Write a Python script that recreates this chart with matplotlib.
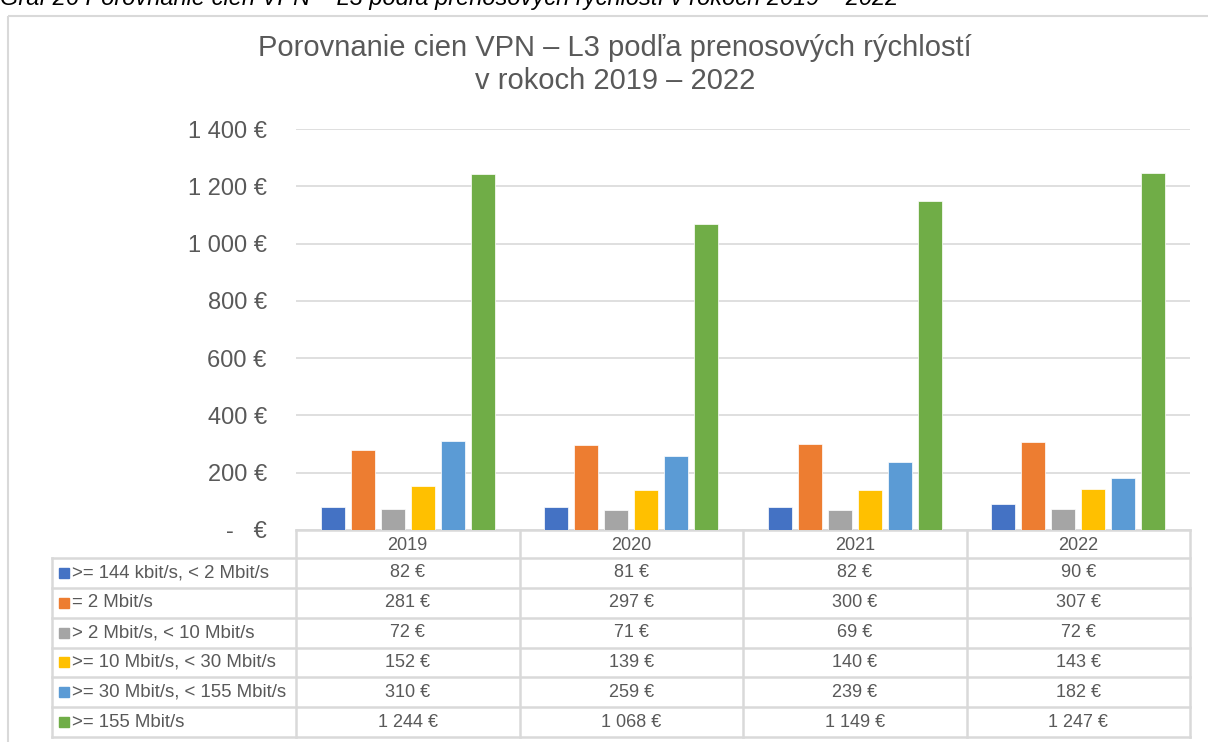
import matplotlib
matplotlib.use("Agg")
import matplotlib.pyplot as plt
from matplotlib.patches import Rectangle

plt.rcParams['font.family'] = ['Liberation Sans', 'DejaVu Sans']

years = ['2019', '2020', '2021', '2022']
series = ['>= 144 kbit/s, < 2 Mbit/s', '= 2 Mbit/s', '> 2 Mbit/s, < 10 Mbit/s',
          '>= 10 Mbit/s, < 30 Mbit/s', '>= 30 Mbit/s, < 155 Mbit/s', '>= 155 Mbit/s']
values = [
    [82, 81, 82, 90],
    [281, 297, 300, 307],
    [72, 71, 69, 72],
    [152, 139, 140, 143],
    [310, 259, 239, 182],
    [1244, 1068, 1149, 1247],
]
colors = ['#4472C4', '#ED7D31', '#A5A5A5', '#FFC000', '#5B9BD5', '#70AD47']
yticks = [0, 200, 400, 600, 800, 1000, 1200, 1400]

title_lines = ['Porovnanie cien VPN – L3 podľa prenosových rýchlostí', 'v rokoch 2019 – 2022']
caption = 'Graf 26 Porovnanie cien VPN – L3 podľa prenosových rýchlostí v rokoch 2019 – 2022'

W, H = 1208, 742
fig = plt.figure(figsize=(W / 100, H / 100), dpi=100)
TXT = '#595959'
GRID = '#D9D9D9'

def fmt(v):
    if v == 0:
        return '-   €'
    return f'{v:,.0f} €'.replace(',', ' ')

# overlay axes in pixel coords
ov = fig.add_axes([0, 0, 1, 1])
ov.set_xlim(0, W)
ov.set_ylim(H, 0)
ov.axis('off')
ov.patch.set_visible(False)

# chart border
ov.add_patch(Rectangle((8, 16), W + 20, H, fill=False, edgecolor=GRID, lw=1.5))
# caption (cut at top as in the source)
ov.text(0, 5, caption, fontsize=17, style='italic', color='black', va='baseline', ha='left')
# title
ov.text(615, 56, title_lines[0], fontsize=21, color=TXT, ha='center', va='baseline')
ov.text(615, 89, title_lines[1], fontsize=21, color=TXT, ha='center', va='baseline')

# plot area
L, R, T, B = 296, 1190, 129, 530
ax = fig.add_axes([L / W, 1 - B / H, (R - L) / W, (B - T) / H])
ax.set_xlim(-0.5, len(years) - 0.5)
ax.set_ylim(0, 1400)
slot = 0.1345
bw = 0.108
for k, (name, vals, c) in enumerate(zip(series, values, colors)):
    xs = [i + (k - 2.5) * slot for i in range(len(years))]
    ax.bar(xs, vals, width=bw, color=c, edgecolor='white', linewidth=0.5, zorder=3)
ax.set_yticks(yticks)
ax.set_yticklabels([fmt(v) for v in yticks], fontsize=17, color=TXT)
ax.tick_params(axis='y', length=0, pad=21)
ax.set_xticks([])
ax.grid(axis='y', color=GRID, lw=1.2, zorder=0)
for s in ax.spines.values():
    s.set_visible(False)
ax.patch.set_visible(False)

# data table
col_x = [L + (R - L) * i / len(years) for i in range(len(years) + 1)]
left_x = 52
hdr_top, hdr_bot = B, 558
row_h = (737 - hdr_bot) / len(series)
row_y = [hdr_bot + row_h * j for j in range(len(series) + 1)]
lw = 1.8
ov.plot([L, R], [hdr_top, hdr_top], color=GRID, lw=lw)
for y in row_y:
    ov.plot([left_x, R], [y, y], color=GRID, lw=lw)
for x in col_x:
    ov.plot([x, x], [hdr_top, row_y[-1]], color=GRID, lw=lw)
ov.plot([left_x, left_x], [hdr_bot, row_y[-1]], color=GRID, lw=lw)
for i, yr in enumerate(years):
    ov.text((col_x[i] + col_x[i + 1]) / 2, (hdr_top + hdr_bot) / 2 + 1, yr,
            fontsize=13, color=TXT, ha='center', va='center')
for j, (name, vals, c) in enumerate(zip(series, values, colors)):
    yc = (row_y[j] + row_y[j + 1]) / 2
    ov.add_patch(Rectangle((59, yc - 5), 10, 10, color=c))
    ov.text(72, yc, name, fontsize=13.4, color=TXT, ha='left', va='center')
    for i, v in enumerate(vals):
        ov.text((col_x[i] + col_x[i + 1]) / 2, yc, fmt(v), fontsize=13, color=TXT,
                ha='center', va='center')

fig.savefig('out.png', dpi=100)
